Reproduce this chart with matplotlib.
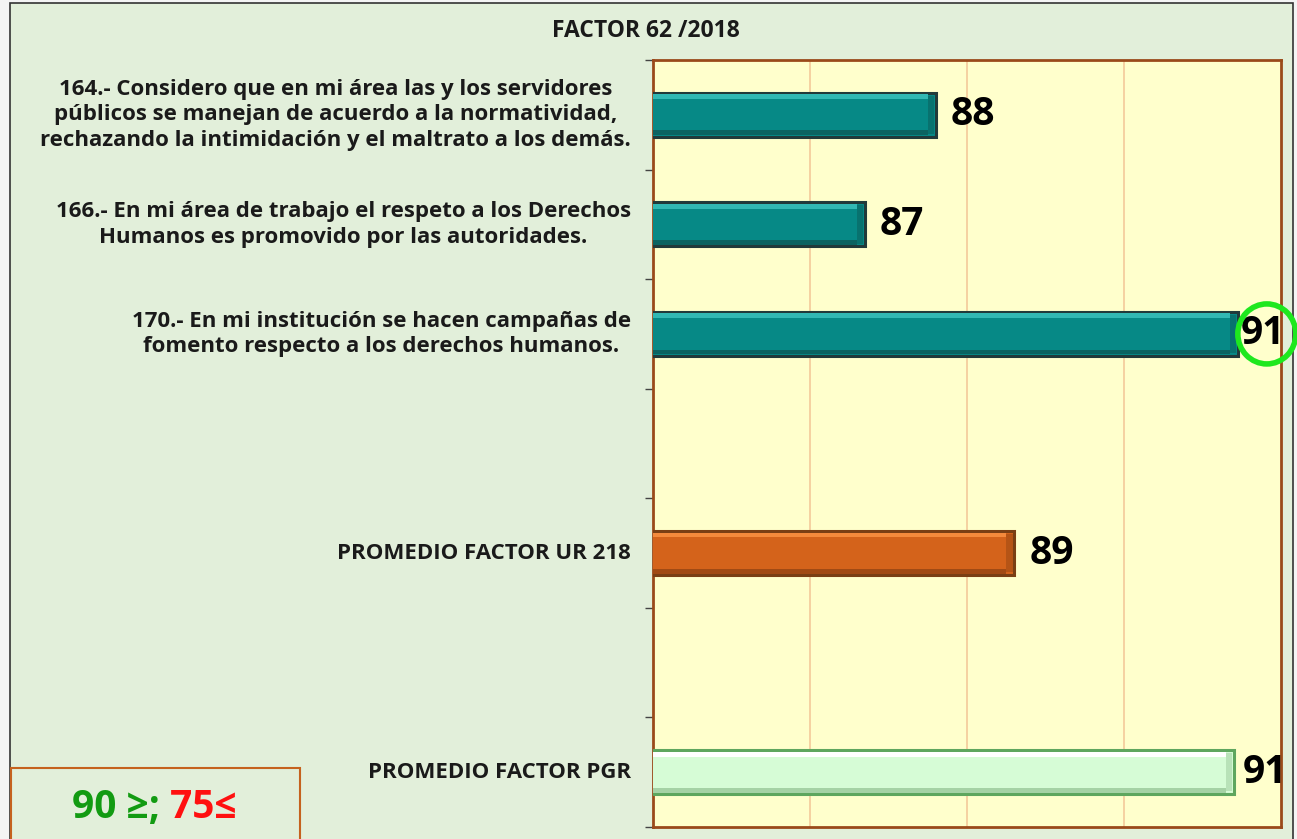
import matplotlib
matplotlib.use("Agg")
import matplotlib.pyplot as plt
from matplotlib.patches import Rectangle, Ellipse
from matplotlib.transforms import blended_transform_factory, offset_copy

# ---- data -------------------------------------------------------------
title = "FACTOR 62 /2018"
categories = [
    "164.- Considero que en mi área las y los servidores\n"
    "públicos se manejan de acuerdo a la normatividad,\n"
    "rechazando la intimidación y el maltrato a los demás.",
    "166.- En mi área de trabajo el respeto a los Derechos\n"
    "Humanos es promovido por las autoridades.",
    "170.- En mi institución se hacen campañas de\n"
    "fomento respecto a los derechos humanos.",
    "",
    "PROMEDIO FACTOR UR 218",
    "",
    "PROMEDIO FACTOR PGR",
]
values = [87.6, 86.7, 91.45, None, 88.6, None, 91.4]
kinds = ["item", "item", "item", None, "ur", None, "pgr"]
x_min, x_max = 84, 92
grid_at = [86, 88, 90]
legend_green = "90 ≥;"
legend_red = " 75≤"

# ---- styling ----------------------------------------------------------
W, H = 1297, 839
FONT = ["Open Sans", "DejaVu Sans"]
styles = {
    "item": dict(face="#068986", edge="#213a3a", light="#31b8b3", dark="#0b6361"),
    "ur":   dict(face="#d4631b", edge="#7a3f14", light="#f48a3c", dark="#a14a14"),
    "pgr":  dict(face="#d6fcd6", edge="#5ea65e", light="#ffffff", dark="#a5d2a5"),
}
label_offsets = [15, 15, 3, None, 16, None, 9]

fig = plt.figure(figsize=(W / 100, H / 100), dpi=100)
fig.patch.set_facecolor("#f4f4f4")

# panel behind the chart
fig.add_artist(Rectangle((10 / W, -0.01), (1293 - 10) / W, 1.01 - 3 / H,
                         transform=fig.transFigure, facecolor="#e2efda",
                         edgecolor="#333333", linewidth=1.2, zorder=0))

ax = fig.add_axes([653 / W, 1 - 827 / H, (1281 - 653) / W, (827 - 60) / H])
ax.set_facecolor("#ffffcc")
ax.set_xlim(x_min, x_max)
n = len(categories)
ax.set_ylim(n - 0.5, -0.5)
for s in ax.spines.values():
    s.set_color("#9a4a1a")
    s.set_linewidth(2)
for g in grid_at:
    ax.axvline(g, color="#f3c99a", linewidth=1.2, zorder=1)

ax.set_xticks([])
ax.set_yticks([i - 0.5 for i in range(n + 1)])
ax.set_yticklabels([])
ax.tick_params(axis="y", direction="out", length=6, color="#444444", width=1)

bar_h = 0.4
for i, (v, k) in enumerate(zip(values, kinds)):
    if v is None:
        continue
    st = styles[k]
    ax.barh(i, v, height=bar_h, color=st["face"], edgecolor=st["edge"],
            linewidth=2.2, zorder=3)
    # bevel: light top band and darker bottom band / right end
    ax.barh(i - bar_h / 2 + 0.035, v - 0.1, height=0.045, color=st["light"],
            linewidth=0, zorder=4)
    ax.barh(i + bar_h / 2 - 0.035, v - 0.1, height=0.045, color=st["dark"],
            linewidth=0, zorder=4)
    ax.barh(i, 0.08, left=v - 0.1, height=bar_h - 0.05, color=st["dark"],
            linewidth=0, zorder=4, alpha=0.6)
    tr = offset_copy(ax.transData, fig=fig, x=label_offsets[i], y=0, units="dots")
    ax.text(v, i, f"{v:.0f}", transform=tr, ha="left", va="center",
            fontsize=28, fontweight="bold", family=FONT, color="black",
            clip_on=False, zorder=6)

# highlight ring around the top item value
top_i = max(range(3), key=lambda j: values[j])
cx, cy = ax.transData.transform((values[top_i], top_i))
cx += 29
ring = Ellipse((cx / W, cy / H), 58 / W, 60 / H, transform=fig.transFigure,
               fill=False, edgecolor="#1ee81e", linewidth=4, zorder=7)
fig.add_artist(ring)

# category labels
lab_tr = blended_transform_factory(fig.transFigure, ax.transData)
for i, c in enumerate(categories):
    if c:
        fig.text(631 / W, i, c, transform=lab_tr, ha="right", va="center",
                 multialignment="center", fontsize=16, fontweight="bold",
                 family=FONT, color="#1a1a1a", linespacing=1.28)

fig.text(646 / W, 1 - 31 / H, title, ha="center", va="center",
         fontsize=16.5, fontweight="bold", family=FONT, color="#1a1a1a")

# threshold box
fig.add_artist(Rectangle((11 / W, -0.01), (300 - 11) / W, (839 - 768) / H + 0.01,
                         transform=fig.transFigure, facecolor="#e2efda",
                         edgecolor="#c5621e", linewidth=1.5, zorder=1))
t1 = fig.text(72 / W, 1 - 808 / H, legend_green, ha="left", va="center",
              fontsize=28, fontweight="bold", family=FONT, color="#129b12")
fig.canvas.draw()
bb = t1.get_window_extent()
fig.text(bb.x1 / W, 1 - 808 / H, legend_red, ha="left", va="center",
         fontsize=28, fontweight="bold", family=FONT, color="#ff1010")

fig.savefig("out.png", dpi=100, facecolor=fig.get_facecolor())
